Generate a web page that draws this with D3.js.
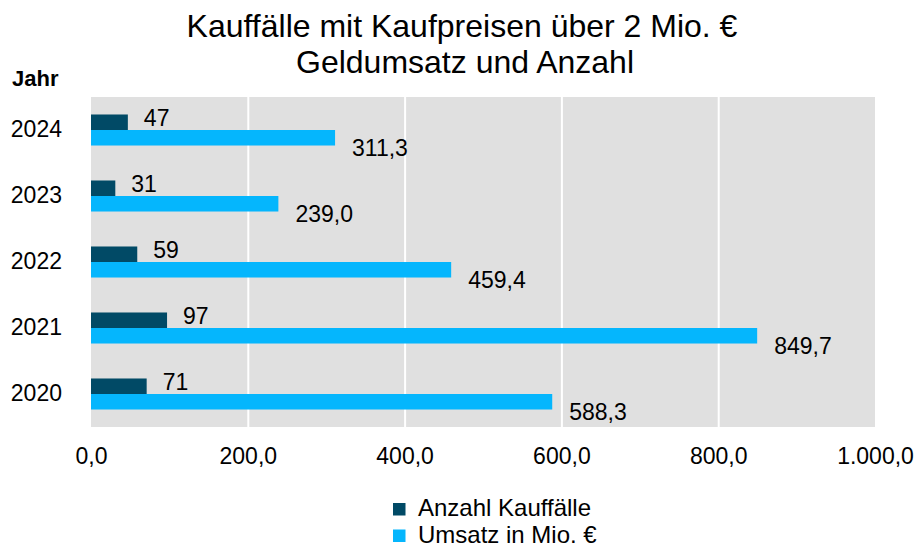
<!DOCTYPE html>
<html>
<head>
<meta charset="utf-8">
<script src="https://cdn.jsdelivr.net/npm/d3@7"></script>
<style>
  body { margin: 0; background: #fff; }
  text { font-family: "Liberation Sans", Arial, sans-serif; fill: #000; }
</style>
</head>
<body>
<div id="chart"></div>
<script>
////////////////////////////////////////////////////////////
// DATA
////////////////////////////////////////////////////////////
var years = ["2024", "2023", "2022", "2021", "2020"];
var anzahl = [47, 31, 59, 97, 71];
var umsatz = [311.3, 239.0, 459.4, 849.7, 588.3];
var xTicks = [0, 200, 400, 600, 800, 1000];
var seriesNames = ["Anzahl Kauffälle", "Umsatz in Mio. €"];
var seriesColors = ["#014a66", "#05b6fd"];

var W = 917, H = 547;
var margin = {top: 97, right: 42, bottom: 120, left: 91};
var width = W - margin.left - margin.right;
var height = H - margin.top - margin.bottom;

var fmt = d3.formatLocale({decimal: ",", thousands: ".", grouping: [3], currency: ["", " €"]}).format(",.1f");

var svg = d3.select("#chart").append("svg")
    .attr("width", W)
    .attr("height", H);

// title
svg.append("text")
    .attr("x", 462).attr("y", 37)
    .attr("text-anchor", "middle")
    .style("font-size", "32px")
    .text("Kauffälle mit Kaufpreisen über 2 Mio. €");
svg.append("text")
    .attr("x", 465).attr("y", 73)
    .attr("text-anchor", "middle")
    .style("font-size", "32px")
    .text("Geldumsatz und Anzahl");

svg.append("text")
    .attr("x", 12).attr("y", 86)
    .style("font-size", "22px")
    .style("font-weight", "bold")
    .text("Jahr");

var g = svg.append("g")
    .attr("transform", "translate(" + margin.left + "," + margin.top + ")");

var x = d3.scaleLinear().domain([0, 1000]).range([0, width]);
var y = d3.scaleBand().domain(years).range([0, height]).paddingInner(0.53).paddingOuter(0.265);
var inner = d3.scaleBand().domain([0, 1]).range([0, y.bandwidth()]);

// plot background
g.append("rect")
    .attr("width", width)
    .attr("height", height)
    .attr("fill", "#e0e0e0");

// vertical gridlines
g.append("g")
    .attr("class", "grid")
    .call(d3.axisBottom(x).tickValues(xTicks.slice(1, -1)).tickSize(height).tickFormat(""))
    .call(function(s) {
        s.select(".domain").remove();
        s.selectAll("line").attr("stroke", "#fff").attr("stroke-width", 2);
    });

// x axis labels
g.append("g")
    .attr("transform", "translate(0," + height + ")")
    .call(d3.axisBottom(x).tickValues(xTicks).tickSize(0).tickPadding(21).tickFormat(fmt))
    .call(function(s) {
        s.select(".domain").remove();
        s.selectAll("text").style("font-size", "23px").attr("fill", "#000");
    });

// y axis labels
g.append("g")
    .call(d3.axisLeft(y).tickSize(0).tickPadding(29))
    .call(function(s) {
        s.select(".domain").remove();
        s.selectAll("text").style("font-size", "23px").attr("fill", "#000");
    });

// bars
var rows = years.map(function(yr, i) {
    return {year: yr, anzahl: anzahl[i], umsatz: umsatz[i]};
});

g.selectAll(".bar-anzahl")
    .data(rows)
    .enter().append("rect")
    .attr("class", "bar-anzahl")
    .attr("x", 0)
    .attr("y", function(d) { return y(d.year) + inner(0); })
    .attr("width", function(d) { return x(d.anzahl); })
    .attr("height", inner.bandwidth())
    .attr("fill", seriesColors[0]);

g.selectAll(".bar-umsatz")
    .data(rows)
    .enter().append("rect")
    .attr("class", "bar-umsatz")
    .attr("x", 0)
    .attr("y", function(d) { return y(d.year) + inner(1); })
    .attr("width", function(d) { return x(d.umsatz); })
    .attr("height", inner.bandwidth())
    .attr("fill", seriesColors[1]);

// value labels
g.selectAll(".lab-anzahl")
    .data(rows)
    .enter().append("text")
    .attr("x", function(d) { return x(d.anzahl) + 16; })
    .attr("y", function(d) { return y(d.year) + inner(0) + inner.bandwidth() / 2 + 4; })
    .style("font-size", "23px")
    .text(function(d) { return d.anzahl; });

g.selectAll(".lab-umsatz")
    .data(rows)
    .enter().append("text")
    .attr("x", function(d) { return x(d.umsatz) + 17; })
    .attr("y", function(d) { return y(d.year) + inner(1) + inner.bandwidth() / 2 + 18; })
    .style("font-size", "23px")
    .text(function(d) { return fmt(d.umsatz); });

// legend
var legend = svg.append("g").attr("transform", "translate(393,503)");
seriesNames.forEach(function(name, i) {
    legend.append("rect")
        .attr("x", 0).attr("y", i * 26.5)
        .attr("width", 12.5).attr("height", 12.5)
        .attr("fill", seriesColors[i]);
    legend.append("text")
        .attr("x", 25).attr("y", i * 26.5 + 13)
        .style("font-size", "24px")
        .text(name);
});
</script>
</body>
</html>
